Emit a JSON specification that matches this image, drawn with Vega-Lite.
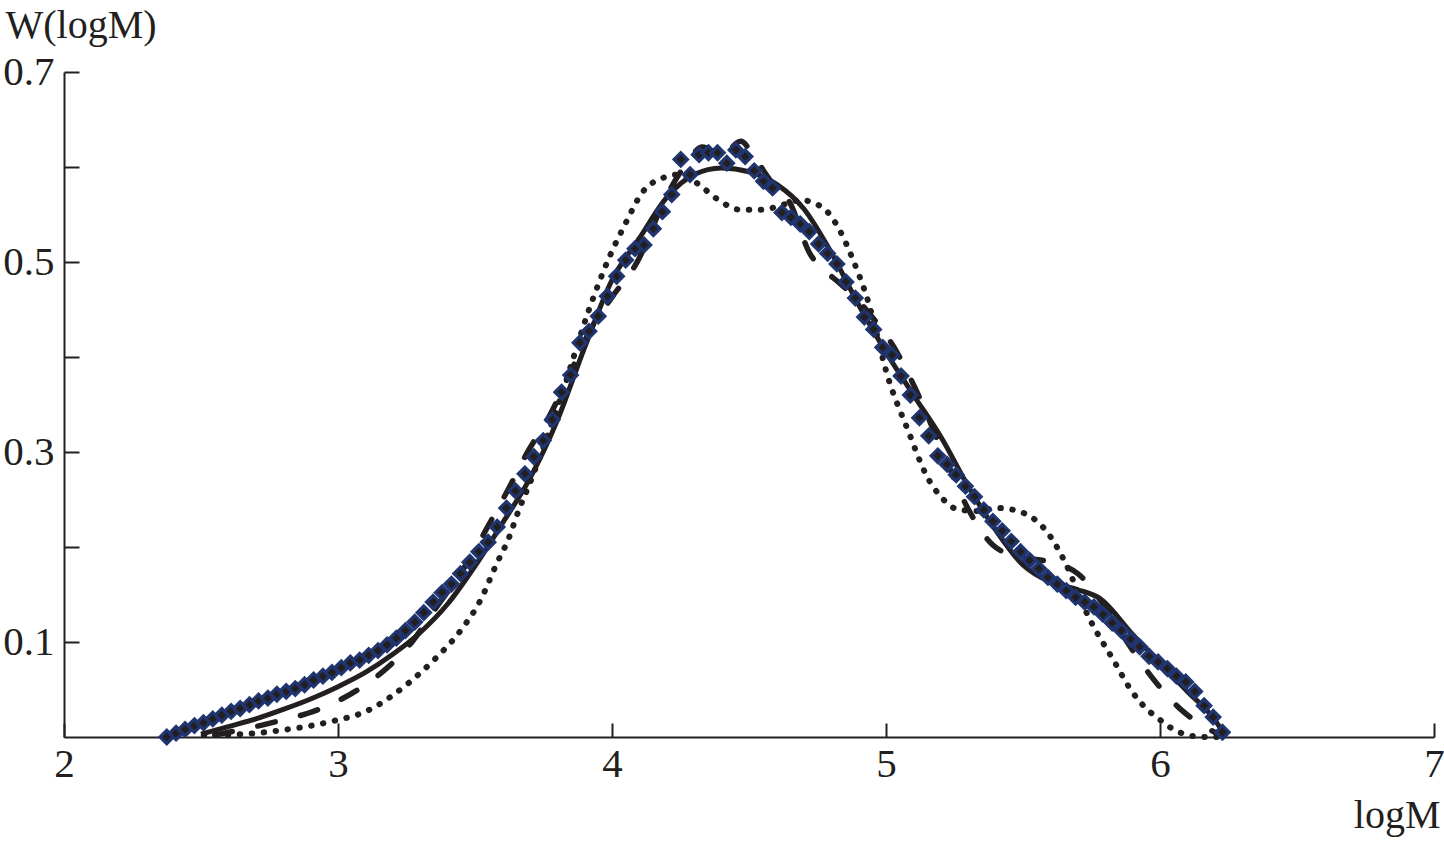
{
  "$schema": "https://vega.github.io/schema/vega-lite/v6.json",
  "autosize": "none",
  "width": 1370,
  "height": 665,
  "padding": {"left": 64, "top": 72, "right": 10, "bottom": 104},
  "background": "white",
  "datasets": {
    "solid": [
      {"x": 2.50, "y": 0.003}, {"x": 2.60, "y": 0.011}, {"x": 2.70, "y": 0.019}, {"x": 2.80, "y": 0.029},
      {"x": 2.90, "y": 0.040}, {"x": 3.00, "y": 0.053}, {"x": 3.10, "y": 0.068}, {"x": 3.20, "y": 0.087},
      {"x": 3.30, "y": 0.110}, {"x": 3.40, "y": 0.140}, {"x": 3.50, "y": 0.180}, {"x": 3.60, "y": 0.225},
      {"x": 3.70, "y": 0.272}, {"x": 3.80, "y": 0.333}, {"x": 3.90, "y": 0.410}, {"x": 4.00, "y": 0.481},
      {"x": 4.10, "y": 0.525}, {"x": 4.20, "y": 0.568}, {"x": 4.30, "y": 0.592}, {"x": 4.40, "y": 0.599},
      {"x": 4.50, "y": 0.595}, {"x": 4.60, "y": 0.582}, {"x": 4.70, "y": 0.556}, {"x": 4.80, "y": 0.510},
      {"x": 4.90, "y": 0.455}, {"x": 5.00, "y": 0.405}, {"x": 5.10, "y": 0.360}, {"x": 5.20, "y": 0.316},
      {"x": 5.30, "y": 0.264}, {"x": 5.40, "y": 0.218}, {"x": 5.50, "y": 0.181}, {"x": 5.60, "y": 0.163},
      {"x": 5.70, "y": 0.155}, {"x": 5.78, "y": 0.146}, {"x": 5.90, "y": 0.108}, {"x": 6.00, "y": 0.078},
      {"x": 6.10, "y": 0.048}, {"x": 6.20, "y": 0.018}, {"x": 6.23, "y": 0.005}
    ],
    "dashed": [
      {"x": 2.55, "y": 0.002}, {"x": 2.65, "y": 0.008}, {"x": 2.73, "y": 0.013}, {"x": 2.80, "y": 0.018},
      {"x": 2.89, "y": 0.025}, {"x": 3.00, "y": 0.038}, {"x": 3.10, "y": 0.055}, {"x": 3.16, "y": 0.068},
      {"x": 3.27, "y": 0.100}, {"x": 3.36, "y": 0.137}, {"x": 3.43, "y": 0.165}, {"x": 3.50, "y": 0.197},
      {"x": 3.54, "y": 0.218}, {"x": 3.62, "y": 0.260}, {"x": 3.69, "y": 0.299}, {"x": 3.77, "y": 0.337},
      {"x": 3.85, "y": 0.385}, {"x": 3.92, "y": 0.428}, {"x": 4.00, "y": 0.463}, {"x": 4.09, "y": 0.499},
      {"x": 4.20, "y": 0.570}, {"x": 4.27, "y": 0.603}, {"x": 4.33, "y": 0.621}, {"x": 4.40, "y": 0.612},
      {"x": 4.47, "y": 0.627}, {"x": 4.52, "y": 0.610}, {"x": 4.58, "y": 0.585}, {"x": 4.65, "y": 0.562},
      {"x": 4.72, "y": 0.510}, {"x": 4.78, "y": 0.490}, {"x": 4.83, "y": 0.478}, {"x": 4.95, "y": 0.442},
      {"x": 5.04, "y": 0.405}, {"x": 5.11, "y": 0.365}, {"x": 5.20, "y": 0.305}, {"x": 5.30, "y": 0.240},
      {"x": 5.39, "y": 0.202}, {"x": 5.48, "y": 0.190}, {"x": 5.57, "y": 0.186}, {"x": 5.65, "y": 0.180},
      {"x": 5.70, "y": 0.172}, {"x": 5.79, "y": 0.141}, {"x": 5.88, "y": 0.100}, {"x": 5.97, "y": 0.063},
      {"x": 6.08, "y": 0.028}, {"x": 6.15, "y": 0.013}, {"x": 6.20, "y": 0.005}
    ],
    "dotted": [
      {"x": 2.51, "y": 0.002}, {"x": 2.65, "y": 0.003}, {"x": 2.79, "y": 0.007}, {"x": 2.97, "y": 0.016},
      {"x": 3.11, "y": 0.028}, {"x": 3.25, "y": 0.055}, {"x": 3.35, "y": 0.081}, {"x": 3.45, "y": 0.113},
      {"x": 3.52, "y": 0.144}, {"x": 3.58, "y": 0.183}, {"x": 3.62, "y": 0.207}, {"x": 3.66, "y": 0.239},
      {"x": 3.70, "y": 0.267}, {"x": 3.81, "y": 0.355}, {"x": 3.92, "y": 0.453}, {"x": 3.99, "y": 0.505},
      {"x": 4.05, "y": 0.541}, {"x": 4.11, "y": 0.573}, {"x": 4.19, "y": 0.589}, {"x": 4.24, "y": 0.592},
      {"x": 4.31, "y": 0.583}, {"x": 4.38, "y": 0.567}, {"x": 4.47, "y": 0.555}, {"x": 4.55, "y": 0.555},
      {"x": 4.62, "y": 0.560}, {"x": 4.69, "y": 0.565}, {"x": 4.77, "y": 0.557}, {"x": 4.83, "y": 0.534},
      {"x": 4.88, "y": 0.502}, {"x": 4.93, "y": 0.463}, {"x": 5.01, "y": 0.376}, {"x": 5.08, "y": 0.323},
      {"x": 5.15, "y": 0.274}, {"x": 5.20, "y": 0.253}, {"x": 5.27, "y": 0.239}, {"x": 5.34, "y": 0.238},
      {"x": 5.41, "y": 0.241}, {"x": 5.50, "y": 0.236}, {"x": 5.60, "y": 0.211}, {"x": 5.65, "y": 0.186},
      {"x": 5.74, "y": 0.126}, {"x": 5.83, "y": 0.081}, {"x": 5.90, "y": 0.047}, {"x": 5.93, "y": 0.036},
      {"x": 6.00, "y": 0.018}, {"x": 6.07, "y": 0.005}, {"x": 6.16, "y": 0.000}, {"x": 6.21, "y": 0.000}
    ],
    "diamonds": [
      {"x": 2.375, "y": 0.000}, {"x": 2.409, "y": 0.004}, {"x": 2.442, "y": 0.008}, {"x": 2.476, "y": 0.012},
      {"x": 2.509, "y": 0.015}, {"x": 2.543, "y": 0.019}, {"x": 2.576, "y": 0.023}, {"x": 2.610, "y": 0.027},
      {"x": 2.643, "y": 0.030}, {"x": 2.677, "y": 0.034}, {"x": 2.710, "y": 0.038}, {"x": 2.744, "y": 0.041},
      {"x": 2.777, "y": 0.045}, {"x": 2.811, "y": 0.048}, {"x": 2.844, "y": 0.051}, {"x": 2.878, "y": 0.055},
      {"x": 2.911, "y": 0.060}, {"x": 2.945, "y": 0.064}, {"x": 2.978, "y": 0.068}, {"x": 3.012, "y": 0.073},
      {"x": 3.045, "y": 0.078}, {"x": 3.079, "y": 0.081}, {"x": 3.112, "y": 0.086}, {"x": 3.146, "y": 0.091},
      {"x": 3.179, "y": 0.097}, {"x": 3.213, "y": 0.104}, {"x": 3.246, "y": 0.112}, {"x": 3.280, "y": 0.121},
      {"x": 3.313, "y": 0.131}, {"x": 3.347, "y": 0.142}, {"x": 3.380, "y": 0.152}, {"x": 3.414, "y": 0.161},
      {"x": 3.447, "y": 0.172}, {"x": 3.481, "y": 0.184}, {"x": 3.514, "y": 0.195}, {"x": 3.548, "y": 0.205},
      {"x": 3.581, "y": 0.221}, {"x": 3.615, "y": 0.241}, {"x": 3.648, "y": 0.259}, {"x": 3.682, "y": 0.277},
      {"x": 3.715, "y": 0.295}, {"x": 3.749, "y": 0.312}, {"x": 3.782, "y": 0.334}, {"x": 3.816, "y": 0.363},
      {"x": 3.849, "y": 0.381}, {"x": 3.883, "y": 0.415}, {"x": 3.916, "y": 0.427}, {"x": 3.950, "y": 0.443},
      {"x": 3.983, "y": 0.464}, {"x": 4.017, "y": 0.485}, {"x": 4.050, "y": 0.502}, {"x": 4.084, "y": 0.514},
      {"x": 4.117, "y": 0.518}, {"x": 4.151, "y": 0.535}, {"x": 4.184, "y": 0.553}, {"x": 4.218, "y": 0.571},
      {"x": 4.251, "y": 0.608}, {"x": 4.285, "y": 0.592}, {"x": 4.318, "y": 0.613}, {"x": 4.352, "y": 0.615},
      {"x": 4.385, "y": 0.615}, {"x": 4.419, "y": 0.604}, {"x": 4.452, "y": 0.618}, {"x": 4.486, "y": 0.611},
      {"x": 4.519, "y": 0.596}, {"x": 4.553, "y": 0.585}, {"x": 4.586, "y": 0.578}, {"x": 4.620, "y": 0.552},
      {"x": 4.653, "y": 0.547}, {"x": 4.687, "y": 0.540}, {"x": 4.720, "y": 0.532}, {"x": 4.754, "y": 0.519},
      {"x": 4.787, "y": 0.509}, {"x": 4.821, "y": 0.498}, {"x": 4.854, "y": 0.479}, {"x": 4.888, "y": 0.462},
      {"x": 4.921, "y": 0.442}, {"x": 4.955, "y": 0.429}, {"x": 4.988, "y": 0.410}, {"x": 5.022, "y": 0.402},
      {"x": 5.055, "y": 0.380}, {"x": 5.089, "y": 0.360}, {"x": 5.122, "y": 0.336}, {"x": 5.156, "y": 0.317},
      {"x": 5.189, "y": 0.296}, {"x": 5.223, "y": 0.287}, {"x": 5.256, "y": 0.276}, {"x": 5.290, "y": 0.264},
      {"x": 5.323, "y": 0.253}, {"x": 5.357, "y": 0.239}, {"x": 5.390, "y": 0.227}, {"x": 5.424, "y": 0.217},
      {"x": 5.457, "y": 0.206}, {"x": 5.491, "y": 0.195}, {"x": 5.524, "y": 0.186}, {"x": 5.558, "y": 0.177},
      {"x": 5.591, "y": 0.168}, {"x": 5.625, "y": 0.161}, {"x": 5.658, "y": 0.154}, {"x": 5.692, "y": 0.147},
      {"x": 5.725, "y": 0.142}, {"x": 5.759, "y": 0.137}, {"x": 5.792, "y": 0.129}, {"x": 5.826, "y": 0.120},
      {"x": 5.859, "y": 0.112}, {"x": 5.893, "y": 0.103}, {"x": 5.926, "y": 0.095}, {"x": 5.960, "y": 0.085},
      {"x": 5.993, "y": 0.079}, {"x": 6.027, "y": 0.072}, {"x": 6.060, "y": 0.064}, {"x": 6.094, "y": 0.058},
      {"x": 6.127, "y": 0.048}, {"x": 6.161, "y": 0.033}, {"x": 6.194, "y": 0.021}, {"x": 6.228, "y": 0.005}
    ]
  },
  "encoding": {
    "x": {
      "field": "x", "type": "quantitative",
      "scale": {"domain": [2, 7], "nice": false, "zero": false},
      "axis": {
        "values": [2, 3, 4, 5, 6, 7], "format": "d",
        "tickSize": -14, "labelPadding": 21, "labelFlush": false,
        "title": "logM",
        "titleX": 1376, "titleY": 90, "titleAlign": "right", "titleBaseline": "alphabetic", "titleAnchor": "end"
      }
    },
    "y": {
      "field": "y", "type": "quantitative",
      "scale": {"domain": [0, 0.7], "nice": false},
      "axis": {
        "values": [0.1, 0.2, 0.3, 0.4, 0.5, 0.6, 0.7],
        "labelExpr": "(round(datum.value*10) % 2 == 1) ? format(datum.value, '.1f') : ''",
        "tickSize": -15, "labelPadding": 25, "labelFlush": false,
        "title": "W(logM)",
        "titleAngle": 0, "titleX": -59, "titleY": -35, "titleAlign": "left", "titleBaseline": "alphabetic"
      }
    }
  },
  "layer": [
    {
      "data": {"name": "dotted"},
      "mark": {"type": "line", "interpolate": "monotone", "color": "#231f20", "strokeWidth": 6, "strokeDash": [0.5, 11.5], "strokeCap": "round"}
    },
    {
      "data": {"name": "dashed"},
      "mark": {"type": "line", "interpolate": "monotone", "color": "#231f20", "strokeWidth": 5.5, "strokeDash": [18, 26], "strokeCap": "round"}
    },
    {
      "data": {"name": "solid"},
      "mark": {"type": "line", "interpolate": "monotone", "color": "#231f20", "strokeWidth": 5}
    },
    {
      "data": {"name": "diamonds"},
      "mark": {"type": "point", "shape": "diamond", "filled": true, "fill": "#231f20", "fillOpacity": 1, "stroke": "#203570", "strokeWidth": 3.2, "strokeOpacity": 1, "size": 175, "opacity": 1}
    }
  ],
  "config": {
    "view": {"stroke": null},
    "axis": {
      "grid": false,
      "labelFont": "Liberation Serif", "titleFont": "Liberation Serif",
      "labelFontSize": 41, "titleFontSize": 40, "titleFontWeight": "normal",
      "labelColor": "#231f20", "titleColor": "#231f20",
      "domainColor": "#231f20", "tickColor": "#231f20",
      "domainWidth": 2, "tickWidth": 2
    }
  }
}
